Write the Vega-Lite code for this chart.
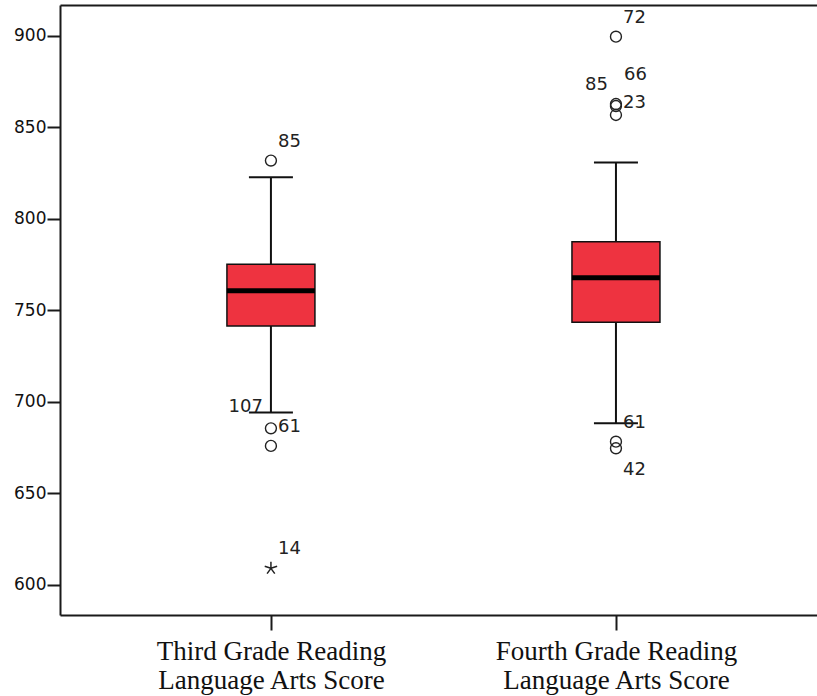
{
  "$schema": "https://vega.github.io/schema/vega-lite/v6.json",
  "autosize": {"type": "none"},
  "padding": {"left": 60, "top": 5, "right": 0, "bottom": 81},
  "width": 757,
  "height": 610,
  "background": "white",
  "config": {
    "view": {"stroke": null},
    "text": {"font": "DejaVu Sans", "fontSize": 18, "color": "#222"}
  },
  "datasets": {
    "boxes": [
      {"grade": "3rd", "lower": 694.2, "q1": 741.5, "median": 760.8, "q3": 775.2, "upper": 822.8},
      {"grade": "4th", "lower": 688.4, "q1": 743.6, "median": 767.9, "q3": 787.6, "upper": 830.8}
    ],
    "cases": [
      {"grade": "3rd", "case": "85", "score": 831.9, "kind": "outlier"},
      {"grade": "3rd", "case": "61", "score": 685.6, "kind": "outlier"},
      {"grade": "3rd", "case": "107", "score": 676.0, "kind": "outlier"},
      {"grade": "3rd", "case": "14", "score": 609.1, "kind": "extreme"},
      {"grade": "4th", "case": "72", "score": 899.6, "kind": "outlier"},
      {"grade": "4th", "case": "23", "score": 862.8, "kind": "outlier"},
      {"grade": "4th", "case": "66", "score": 861.7, "kind": "outlier"},
      {"grade": "4th", "case": "85", "score": 856.8, "kind": "outlier"},
      {"grade": "4th", "case": "61", "score": 678.3, "kind": "outlier"},
      {"grade": "4th", "case": "42", "score": 674.7, "kind": "outlier"}
    ]
  },
  "resolve": {"axis": {"x": "independent"}},
  "layer": [
    {
      "data": {"name": "boxes"},
      "mark": {"type": "rule", "color": "#111", "strokeWidth": 2},
      "encoding": {
        "x": {
          "field": "grade", "type": "nominal",
          "scale": {"type": "point", "domain": ["3rd", "4th"], "padding": 0.597, "align": 0.512},
          "axis": {
            "orient": "bottom", "title": null, "labelAngle": 0, "labelLimit": 0,
            "labelExpr": "datum.value == '3rd' ? ['Third Grade Reading', 'Language Arts Score'] : ['Fourth Grade Reading', 'Language Arts Score']",
            "labelFont": "Liberation Serif", "labelFontSize": 27, "labelLineHeight": 29,
            "labelColor": "#111", "labelPadding": 8,
            "tickSize": 15, "tickWidth": 2, "tickColor": "#1a1a1a",
            "domainColor": "#1a1a1a", "domainWidth": 2
          }
        },
        "y": {
          "field": "lower", "type": "quantitative",
          "scale": {"domain": [583.6, 916.9], "nice": false, "zero": false},
          "axis": {
            "title": null, "values": [600, 650, 700, 750, 800, 850, 900], "grid": false,
            "labelFont": "DejaVu Sans", "labelFontSize": 17, "labelColor": "#111", "labelPadding": 1,
            "tickSize": 13, "tickWidth": 2, "tickColor": "#1a1a1a",
            "domainColor": "#1a1a1a", "domainWidth": 2
          }
        },
        "y2": {"field": "upper"}
      }
    },
    {
      "data": {"name": "boxes"},
      "mark": {"type": "bar", "width": 88, "fill": "#EE3340", "stroke": "#111", "strokeWidth": 1.5},
      "encoding": {
        "x": {
          "field": "grade", "type": "nominal",
          "axis": {"orient": "top", "title": null, "labels": false, "ticks": false, "domainColor": "#1a1a1a", "domainWidth": 2}
        },
        "y": {"field": "q1", "type": "quantitative"},
        "y2": {"field": "q3"}
      }
    },
    {
      "data": {"name": "boxes"},
      "mark": {"type": "tick", "size": 88, "thickness": 5, "color": "#000", "opacity": 1},
      "encoding": {
        "x": {"field": "grade", "type": "nominal", "axis": null},
        "y": {"field": "median", "type": "quantitative"}
      }
    },
    {
      "data": {"name": "boxes"},
      "mark": {"type": "tick", "size": 44, "thickness": 2, "color": "#111", "opacity": 1},
      "encoding": {
        "x": {"field": "grade", "type": "nominal", "axis": null},
        "y": {"field": "upper", "type": "quantitative"}
      }
    },
    {
      "data": {"name": "boxes"},
      "mark": {"type": "tick", "size": 44, "thickness": 2, "color": "#111", "opacity": 1},
      "encoding": {
        "x": {"field": "grade", "type": "nominal", "axis": null},
        "y": {"field": "lower", "type": "quantitative"}
      }
    },
    {
      "data": {"name": "cases"},
      "transform": [{"filter": "datum.kind == 'outlier'"}],
      "mark": {"type": "point", "shape": "circle", "filled": false, "size": 120, "stroke": "#222", "strokeWidth": 1.4, "opacity": 1},
      "encoding": {
        "x": {"field": "grade", "type": "nominal", "axis": null},
        "y": {"field": "score", "type": "quantitative"}
      }
    },
    {
      "data": {"name": "cases"},
      "transform": [{"filter": "datum.kind == 'extreme'"}],
      "mark": {
        "type": "point", "filled": false, "size": 170, "stroke": "#222", "strokeWidth": 1.5, "opacity": 1,
        "shape": "M0,-1L0,0M0,0L0.95,-0.31M0,0L-0.95,-0.31M0,0L0.59,0.81M0,0L-0.59,0.81"
      },
      "encoding": {
        "x": {"field": "grade", "type": "nominal", "axis": null},
        "y": {"field": "score", "type": "quantitative"}
      }
    },
    {
      "data": {"name": "cases"},
      "transform": [{"filter": "(datum.grade == '3rd' && (datum.case == '85' || datum.case == '14')) || (datum.grade == '4th' && (datum.case == '72' || datum.case == '61'))"}],
      "mark": {"type": "text", "align": "left", "baseline": "middle", "dx": 7, "dy": -19},
      "encoding": {
        "x": {"field": "grade", "type": "nominal", "axis": null},
        "y": {"field": "score", "type": "quantitative"},
        "text": {"field": "case"}
      }
    },
    {
      "data": {"name": "cases"},
      "transform": [{"filter": "(datum.grade == '3rd' && datum.case == '61') || (datum.grade == '4th' && datum.case == '23')"}],
      "mark": {"type": "text", "align": "left", "baseline": "middle", "dx": 7, "dy": -1},
      "encoding": {
        "x": {"field": "grade", "type": "nominal", "axis": null},
        "y": {"field": "score", "type": "quantitative"},
        "text": {"field": "case"}
      }
    },
    {
      "data": {"name": "cases"},
      "transform": [{"filter": "datum.grade == '3rd' && datum.case == '107'"}],
      "mark": {"type": "text", "align": "right", "baseline": "middle", "dx": -8, "dy": -39},
      "encoding": {
        "x": {"field": "grade", "type": "nominal", "axis": null},
        "y": {"field": "score", "type": "quantitative"},
        "text": {"field": "case"}
      }
    },
    {
      "data": {"name": "cases"},
      "transform": [{"filter": "datum.grade == '4th' && datum.case == '66'"}],
      "mark": {"type": "text", "align": "left", "baseline": "middle", "dx": 8, "dy": -31},
      "encoding": {
        "x": {"field": "grade", "type": "nominal", "axis": null},
        "y": {"field": "score", "type": "quantitative"},
        "text": {"field": "case"}
      }
    },
    {
      "data": {"name": "cases"},
      "transform": [{"filter": "datum.grade == '4th' && datum.case == '85'"}],
      "mark": {"type": "text", "align": "right", "baseline": "middle", "dx": -8, "dy": -30},
      "encoding": {
        "x": {"field": "grade", "type": "nominal", "axis": null},
        "y": {"field": "score", "type": "quantitative"},
        "text": {"field": "case"}
      }
    },
    {
      "data": {"name": "cases"},
      "transform": [{"filter": "datum.grade == '4th' && datum.case == '42'"}],
      "mark": {"type": "text", "align": "left", "baseline": "middle", "dx": 7, "dy": 22},
      "encoding": {
        "x": {"field": "grade", "type": "nominal", "axis": null},
        "y": {"field": "score", "type": "quantitative"},
        "text": {"field": "case"}
      }
    }
  ]
}
